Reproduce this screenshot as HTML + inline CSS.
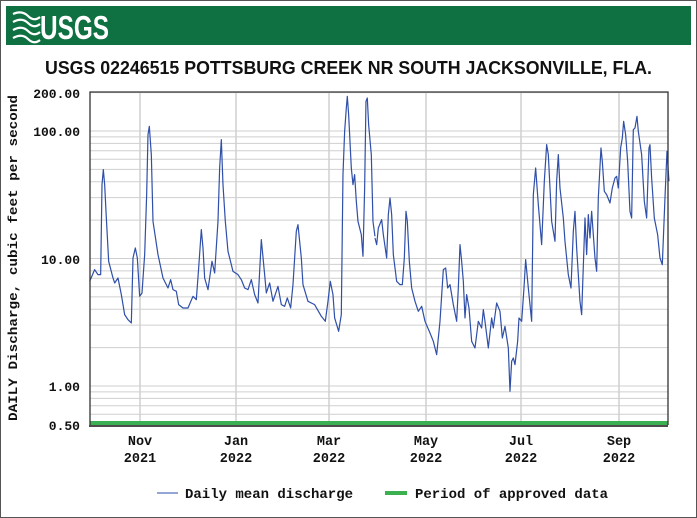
<!DOCTYPE html>
<html><head><meta charset="utf-8"><style>html,body{margin:0;padding:0;background:#fff}svg{display:block}</style></head>
<body>
<svg width="697" height="518" viewBox="0 0 697 518" xmlns="http://www.w3.org/2000/svg">
<rect x="0.5" y="0.5" width="696" height="517" fill="#fff" stroke="#555"/>
<rect x="6" y="6" width="685" height="39" fill="#0f7142"/>
<g fill="none" stroke="#fff" stroke-width="2.2">
<path d="M13 14 Q22 10 28 16 T40 17"/><path d="M13 22 Q22 17 28 23 T40 24"/><path d="M13 30 Q22 25 28 31 T40 32"/><path d="M13 38 Q22 33 28 39 T40 40"/>
</g>
<text x="40" y="39" font-family="Liberation Sans, sans-serif" font-weight="bold" font-size="33" fill="#fff" textLength="69" lengthAdjust="spacingAndGlyphs">USGS</text>
<text x="45" y="74" font-family="Liberation Sans, sans-serif" font-weight="bold" font-size="18" fill="#111" textLength="607" lengthAdjust="spacingAndGlyphs">USGS 02246515 POTTSBURG CREEK NR SOUTH JACKSONVILLE, FLA.</text>
<g id="grid" stroke="#cfcfcf" stroke-width="1"></g>
<g stroke="#cfcfcf" stroke-width="1.5">
<line x1="140" y1="92" x2="140" y2="424"/><line x1="236" y1="92" x2="236" y2="424"/><line x1="329" y1="92" x2="329" y2="424"/><line x1="426" y1="92" x2="426" y2="424"/><line x1="521" y1="92" x2="521" y2="424"/><line x1="619" y1="92" x2="619" y2="424"/>
</g>
<g fill="none" stroke="#2f4fa8" stroke-width="1.2" stroke-linejoin="round">
<polyline transform="translate(88,88) scale(0.3333)" vector-effect="non-scaling-stroke" points="5,580 20,545 30,560 38,560 42,290 46,245 50,290 55,390 62,520 75,570 80,585 90,570 100,620 110,680 120,695 130,705 135,510 142,480 148,510 155,625 162,615 170,500 176,320 180,140 184,115 190,200 195,400 210,500 225,570 240,600 248,575 255,605 265,610 272,650 285,660 300,660 315,625 325,635 332,540 340,425 345,480 350,570 360,605 372,520 380,555 390,400 395,240 400,155 405,290 412,400 420,490 435,550 450,560 460,575 470,600 480,605 490,575 500,620 510,645 520,455 530,560 535,615 545,585 555,640 570,595 580,650 590,655 598,630 608,660 615,590 625,430 630,410 640,510 645,590 660,640 680,650 700,685 712,700 720,640 727,580 735,620 740,690 752,730 760,680 765,260 770,130 775,60 778,25 782,80 790,240 795,290 800,260 805,340 810,400 820,440 825,505 830,300 834,40 838,30 842,110 850,200 855,400 861,445"/>
<polyline transform="translate(375,88) scale(0.3333)" vector-effect="non-scaling-stroke" points="0,450 5,470 10,420 20,395 25,440 35,510 40,380 45,330 50,380 55,500 65,580 75,590 82,590 88,510 93,370 97,400 103,520 110,600 120,640 130,670 140,655 150,700 165,735 175,760 185,800 195,700 205,545 212,540 218,600 225,590 235,650 245,700 250,600 255,470 260,520 265,580 270,690 275,620 282,660 290,760 300,780 310,700 320,720 325,665 330,700 340,780 350,690 355,720 365,645 375,670 382,750 390,715 400,780 405,910 410,820 415,810 420,830 428,760 432,690 440,700 447,600 452,515 460,600 470,700 475,320 482,240 490,350 500,470 508,280 515,170 520,200 525,300 530,400 540,460 545,280 550,200 555,300 565,390 570,460 580,560 588,600 595,430 600,370 605,480 615,640 620,680 630,390 635,500 640,380 645,450 650,370 660,510 665,550 670,330 678,180 682,220 688,310 695,320 705,345 712,300 720,270 725,265 730,300 737,180 742,150 746,100 752,140 758,220 765,370 770,390 775,125 780,120 786,85 790,130 800,200 808,340 815,390 822,180 825,170 830,270 838,390 848,440 855,510 862,530 870,330 876,190 882,280"/>
</g>
<rect x="90" y="421" width="578" height="4" fill="#3bb050"/>
<line x1="89" y1="426" x2="668" y2="426" stroke="#111" stroke-width="1.5"/>
<path d="M90 425 V92 H668 V425" fill="none" stroke="#333" stroke-width="1.3"/>
<g font-family="Liberation Mono, monospace" font-weight="bold" font-size="13" fill="#111" text-anchor="end">
<text x="80" y="98">200.00</text><text x="80" y="136">100.00</text><text x="80" y="264">10.00</text><text x="80" y="391">1.00</text><text x="80" y="430">0.50</text>
</g>
<text transform="translate(17,258) rotate(-90)" font-family="Liberation Mono, monospace" font-weight="bold" font-size="12.5" fill="#111" text-anchor="middle" textLength="326" lengthAdjust="spacingAndGlyphs">DAILY Discharge, cubic feet per second</text>
<g font-family="Liberation Mono, monospace" font-weight="bold" font-size="13.5" fill="#111" text-anchor="middle">
<text x="140" y="445">Nov</text><text x="140" y="462">2021</text>
<text x="236" y="445">Jan</text><text x="236" y="462">2022</text>
<text x="329" y="445">Mar</text><text x="329" y="462">2022</text>
<text x="426" y="445">May</text><text x="426" y="462">2022</text>
<text x="521" y="445">Jul</text><text x="521" y="462">2022</text>
<text x="619" y="445">Sep</text><text x="619" y="462">2022</text>
</g>
<line x1="157" y1="493" x2="178" y2="493" stroke="#7088c8" stroke-width="1.5"/>
<rect x="385" y="491" width="22" height="4" fill="#3bb050"/>
<g font-family="Liberation Mono, monospace" font-weight="bold" font-size="13.5" fill="#111">
<text x="185" y="498" textLength="168" lengthAdjust="spacingAndGlyphs">Daily mean discharge</text>
<text x="415" y="498" textLength="193" lengthAdjust="spacingAndGlyphs">Period of approved data</text>
</g>
<script>
(function(){var g=document.getElementById('grid');var vals=[];
for(var d=-1;d<=2;d++)for(var m=1;m<10;m++){var v=m*Math.pow(10,d);if(v>=0.5&&v<=200)vals.push(v);}
vals.forEach(function(v){var y=386-127.5*Math.log10(v);var l=document.createElementNS('http://www.w3.org/2000/svg','line');
l.setAttribute('x1',90);l.setAttribute('x2',668);l.setAttribute('y1',y);l.setAttribute('y2',y);g.appendChild(l);});})();
</script>
</svg>
</body></html>
